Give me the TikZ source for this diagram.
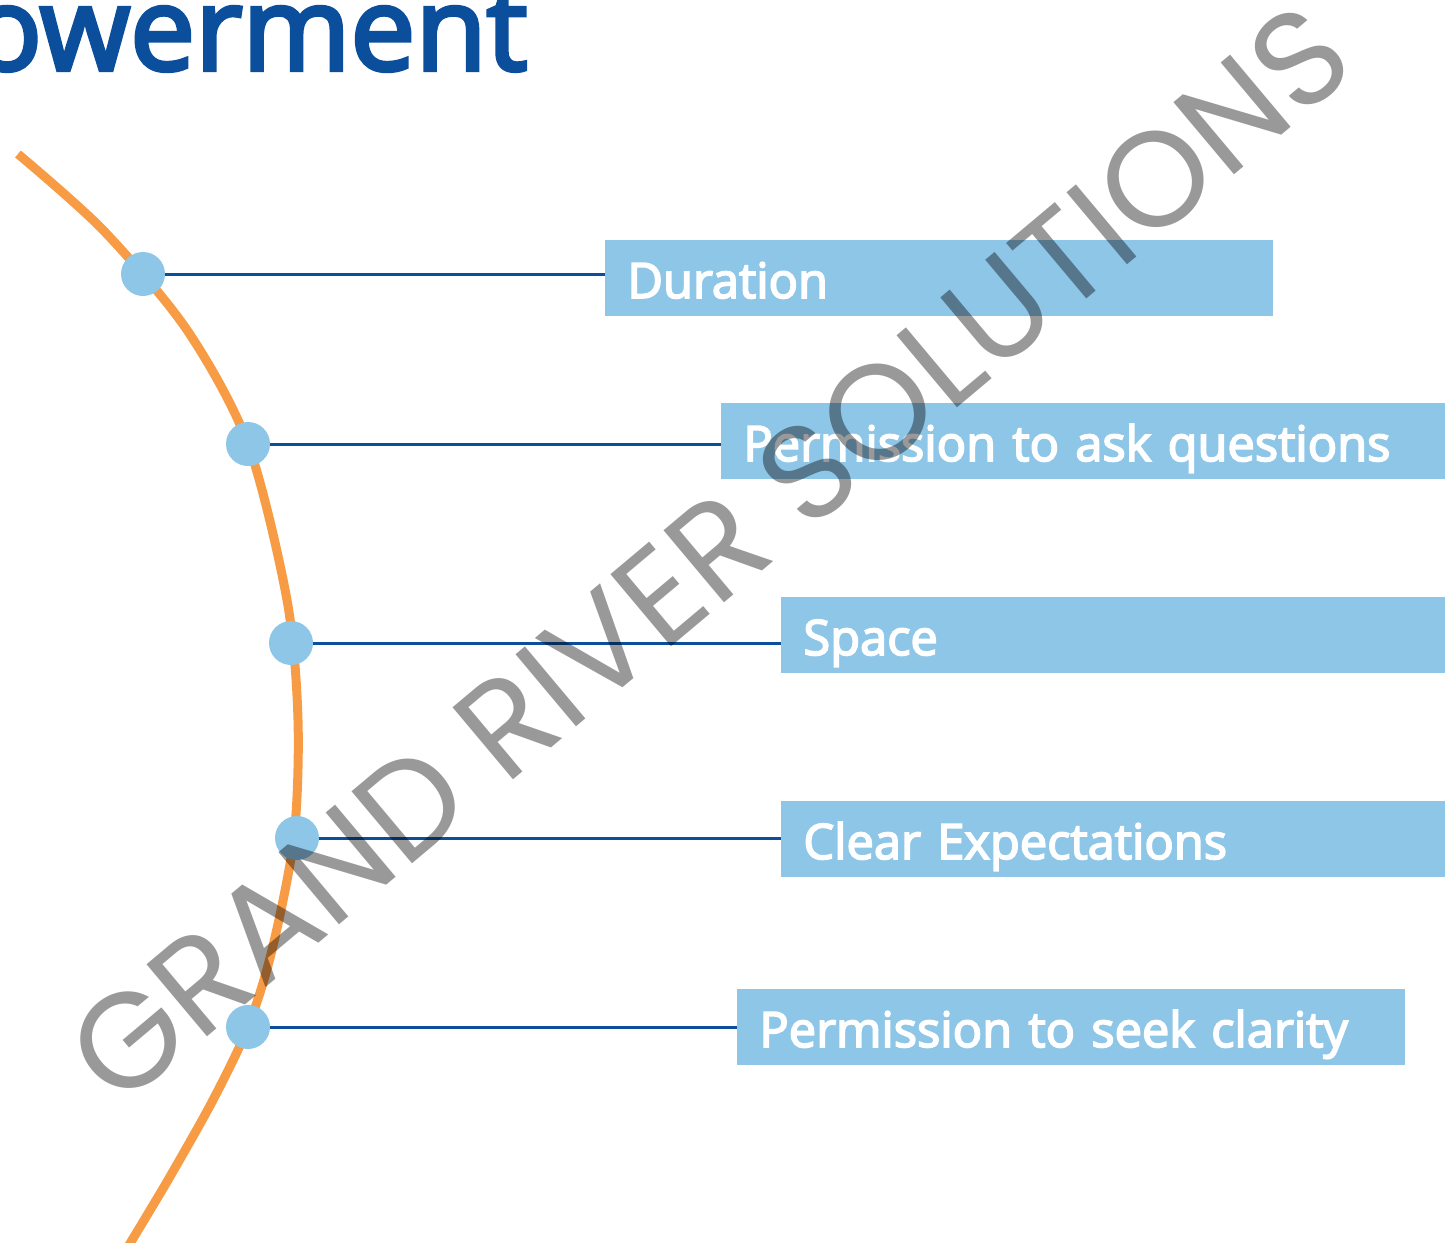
\documentclass[tikz,border=0pt]{standalone}
\usepackage{fontspec}
\setmainfont{Open Sans}
\newfontfamily\semib{Open Sans}[FakeBold=3.5]
\newfontfamily\wmfont{Poppins}
\usetikzlibrary{positioning}

\definecolor{arcorange}{HTML}{F79B45}
\definecolor{dotblue}{HTML}{8EC6E8}
\definecolor{navy}{HTML}{0B4F9C}

\begin{document}
\begin{tikzpicture}[x=0.5pt, y=-0.5pt,
                    every node/.style={inner sep=0pt},
                    arcline/.style={draw=arcorange, line width=4.5pt},
                    link/.style={draw=navy, line width=1.5pt},
                    dot/.style={circle, fill=dotblue, minimum size=22pt},
                    itembox/.style={fill=dotblue, text=white, font=\semib\fontsize{24.4}{30}\selectfont,
                                    anchor=west, minimum height=38pt, text height=20pt, text depth=0pt,
                                    inner xsep=11pt, align=left},
                    heading/.style={text=navy, font=\semib\fontsize{58}{70}\selectfont, anchor=base east},
                    wmtext/.style={text=black, text opacity=0.4, font=\wmfont\fontsize{67.5}{80}\selectfont, rotate=40}
]
\useasboundingbox (0,0) rectangle (1445,1242);
\clip (0,0) rectangle (1445,1242);

\node [heading] at (528,70) (title) {owerment};

\draw [arcline] plot [smooth] coordinates {(18,154) (103,230) (187,330) (248,444) (287,600)
  (298,720) (294,837) (272,950) (248,1027) (213,1100) (168,1180) (126,1250)};
%
\node [dot] at (143,274) (d1) {};
\node [dot] at (248,444) (d2) {};
\node [dot] at (291,643) (d3) {};
\node [dot] at (297,838) (d4) {};
\node [dot] at (248,1027) (d5) {};

\node [itembox, text width=312pt] at (605,278) (b1) {\mbox{Duration}};
\node [itembox, text width=340pt] at (721,441) (b2) {\mbox{Permission to ask questions}};
\node [itembox, text width=310pt] at (781,635) (b3) {\mbox{Space}};
\node [itembox, text width=310pt] at (781,839) (b4) {\mbox{Clear Expectations}};
\node [itembox, text width=312pt] at (737,1027) (b5) {\mbox{Permission to seek clarity}};
%
\draw [link] (d1.east) -- (d1.east -| b1.west);
\draw [link] (d2.east) -- (d2.east -| b2.west);
\draw [link] (d3.east) -- (d3.east -| b3.west);
\draw [link] (d4.east) -- (d4.east -| b4.west);
\draw [link] (d5.east) -- (d5.east -| b5.west);

\node [wmtext] at (709,554) (wm) {GRAND RIVER SOLUTIONS};
\end{tikzpicture}
\end{document}
